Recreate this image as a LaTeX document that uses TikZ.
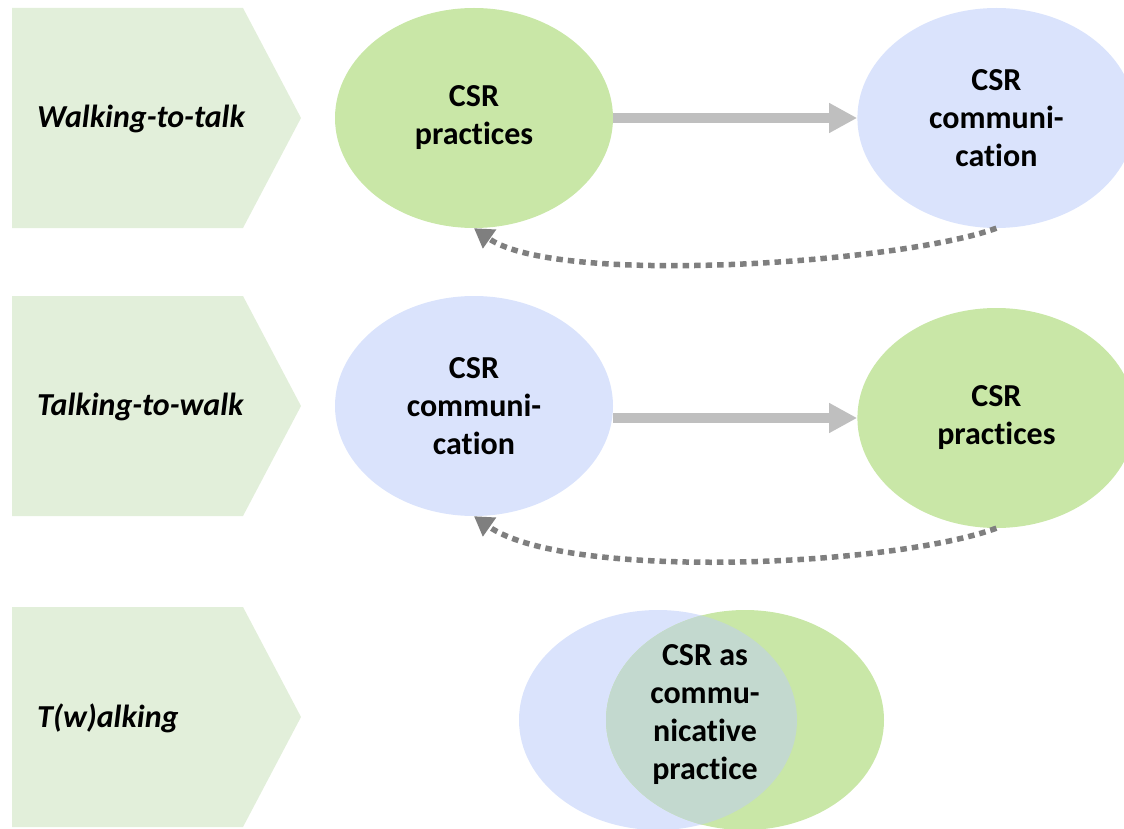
\documentclass[tikz,border=0pt]{standalone}
\usepackage{fontspec}
\setmainfont{Carlito}[Ligatures=NoCommon]
\usetikzlibrary{positioning, shapes.geometric, arrows.meta}

\definecolor{pracgreen}{HTML}{C9E7A7}
\definecolor{commblue}{HTML}{DAE3FC}
\definecolor{chevgreen}{HTML}{E2EFDA}
\definecolor{overlapgreen}{HTML}{C3D9CF}
\definecolor{flowgray}{HTML}{BFBFBF}
\definecolor{loopgray}{HTML}{7F7F7F}

\tikzstyle{Practice} = [ellipse, fill=pracgreen, minimum width=278pt, minimum height=220pt, inner sep=0pt, align=center, font=\bfseries\fontsize{32}{38}\selectfont]
\tikzstyle{Communication} = [Practice, fill=commblue]
\tikzstyle{RowLabel} = [anchor=west, inner sep=0pt, font=\bfseries\itshape\fontsize{32}{38}\selectfont]
\tikzstyle{flow} = [draw=flowgray, line width=10pt, -{Triangle[length=28pt,width=28pt]}]
\tikzstyle{feedback} = [draw=loopgray, line width=5.5pt, dash pattern=on 6.5pt off 5pt, -{Triangle[length=19pt,width=22pt]}]

\begin{document}
\begin{tikzpicture}[x=1pt, y=-1pt, node distance = 244pt]

    \path[use as bounding box, clip] (0,0) rectangle (1124,829);

    % row chevrons
    \foreach \ytop/\name/\txt in {8/walkLabel/Walking-to-talk, 296/talkLabel/Talking-to-walk, 607/twalkLabel/{T(w)alking}} {
      \fill[chevgreen] (12,\ytop) -- ++(231,0) -- ++(58,110) -- ++(-58,110) -- ++(-231,0) -- cycle;
      \node[RowLabel] (\name) at (37,\ytop+111) {\txt};
    }

    % walking-to-talk
    \node[Practice] (prac1) at (474,118) {CSR\\practices};
    \node[Communication] (comm1) [right = of prac1] {CSR\\communi-\\cation};
    \draw[flow] (prac1) -- (comm1);
    \draw[feedback] (comm1.south) to[out=200, in=-35, looseness=0.5] (prac1.south);

    % talking-to-walk
    \node[Communication] (comm2) at (474,406) {CSR\\communi-\\cation};
    \node[Practice] (prac2) [right = of comm2, yshift=-12pt] {CSR\\practices};
    \draw[flow] (comm2.east |- prac2.west) -- (prac2.west);
    \draw[feedback] (prac2.south) to[out=200, in=-35, looseness=0.55] (comm2.south);

    % t(w)alking
    \node[Communication] (vennComm) at (658,720) {};
    \node[Practice] (vennPrac) at (745,720) {};
    \begin{scope}
      \clip (vennComm.center) ellipse [x radius=139, y radius=110];
      \fill[overlapgreen] (vennPrac.center) ellipse [x radius=139, y radius=110];
    \end{scope}
    \node[align=center, font=\bfseries\fontsize{32}{38}\selectfont] (vennText) at (705,715) {CSR as\\commu-\\nicative\\practice};
  \end{tikzpicture}
\end{document}
